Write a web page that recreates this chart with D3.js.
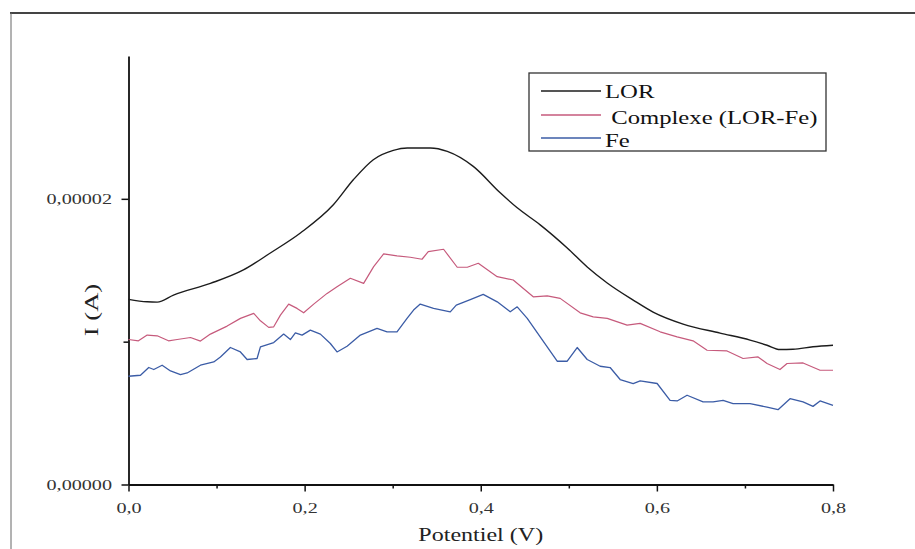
<!DOCTYPE html>
<html><head><meta charset="utf-8">
<script src="https://cdn.jsdelivr.net/npm/d3@7/dist/d3.min.js"></script>
<style>body{margin:0;background:#fff}svg{display:block}</style>
</head><body>
<script>
// ---- data ----
const lorV = [0.0,0.0212,0.0326,0.0511,0.0930,0.1305,0.1611,0.1952,0.2326,0.2553,0.2780,0.3007,0.3166,0.3427,0.3620,0.3915,0.4221,0.4414,0.4675,0.4982,0.5209,0.5436,0.5731,0.5957,0.6298,0.6718,0.7058,0.7251,0.7398,0.7546,0.7773,0.8];
const lorI = [12.96,12.79,12.77,13.26,14.08,15.02,16.21,17.61,19.58,21.33,22.74,23.39,23.56,23.56,23.32,22.27,20.42,19.37,18.18,16.56,15.23,14.11,12.91,12.07,11.23,10.60,10.11,9.75,9.45,9.47,9.64,9.75].map(d=>d*1e-6);

const cpxV = [0.0,0.0113,0.0212,0.0326,0.0454,0.0553,0.0704,0.0817,0.0930,0.1120,0.1271,0.1422,0.1498,0.1592,0.1649,0.1725,0.1819,0.1914,0.1989,0.2103,0.2255,0.2368,0.2519,0.2670,0.2784,0.2897,0.3049,0.3200,0.3333,0.3404,0.3578,0.3733,0.3847,0.3972,0.4187,0.4369,0.4596,0.4755,0.4902,0.5129,0.5277,0.5436,0.5662,0.5810,0.6037,0.6230,0.6411,0.6570,0.6797,0.6979,0.7149,0.7251,0.7398,0.7478,0.7660,0.7853,0.8];
const cpxI = [10.15,10.06,10.46,10.41,10.06,10.15,10.29,10.04,10.53,11.09,11.63,11.98,11.46,11.00,11.04,11.86,12.63,12.33,12.02,12.63,13.38,13.85,14.44,14.08,15.25,16.14,16.00,15.91,15.77,16.30,16.47,15.21,15.21,15.49,14.55,14.32,13.14,13.21,13.03,12.02,11.74,11.63,11.16,11.28,10.69,10.34,10.06,9.40,9.35,8.82,8.93,8.47,8.05,8.47,8.51,8.00,8.00].map(d=>d*1e-6);

const feV = [0.0,0.0136,0.0230,0.0287,0.0382,0.0477,0.0590,0.0666,0.0817,0.0968,0.1044,0.1157,0.1271,0.1347,0.1460,0.1498,0.1649,0.1762,0.1838,0.1895,0.1971,0.2065,0.2179,0.2292,0.2368,0.2482,0.2633,0.2822,0.2936,0.3049,0.3163,0.3237,0.3313,0.3464,0.3654,0.3722,0.3881,0.4028,0.4187,0.4335,0.4414,0.4528,0.4675,0.4868,0.4982,0.5095,0.5209,0.5356,0.5469,0.5583,0.5731,0.5810,0.6003,0.6150,0.6230,0.6343,0.6525,0.6638,0.6752,0.6865,0.7058,0.7251,0.7376,0.7512,0.7660,0.7773,0.7853,0.8];
const feI = [7.58,7.65,8.19,8.05,8.35,7.95,7.70,7.81,8.35,8.58,8.93,9.59,9.28,8.75,8.82,9.64,9.94,10.53,10.15,10.62,10.46,10.81,10.53,9.87,9.28,9.68,10.46,10.93,10.69,10.69,11.63,12.21,12.63,12.33,12.09,12.56,12.95,13.31,12.79,12.09,12.44,11.63,10.34,8.63,8.63,9.59,8.75,8.28,8.19,7.35,7.07,7.25,7.07,5.89,5.85,6.25,5.78,5.78,5.89,5.66,5.66,5.42,5.24,6.01,5.78,5.47,5.85,5.54].map(d=>d*1e-6);

const seriesNames = ["LOR", " Complexe (LOR-Fe)", "Fe"];
const seriesColors = ["#1c1c1c", "#c65a7c", "#3b5ca6"];
const xTicks = [0, 0.2, 0.4, 0.6, 0.8];
const xMinor = [0.1, 0.3, 0.5, 0.7];
const yTicks = [0, 0.00002];
const yMinor = [0.00001];
const xTitle = "Potentiel (V)";
const yTitle = "I (A)";

// ---- drawing ----
const W = 915, H = 549;
const FONT = "'Liberation Serif','Times New Roman',serif";
const SX = 1.3; // horizontal stretch of the scanned text
const svg = d3.select("body").append("svg").attr("width", W).attr("height", H);
svg.append("rect").attr("width", W).attr("height", H).attr("fill", "#fff");

// page frame
svg.append("line").attr("x1", 10).attr("x2", 915).attr("y1", 13).attr("y2", 13)
  .attr("stroke", "#444").attr("stroke-width", 2);
svg.append("line").attr("x1", 11).attr("x2", 11).attr("y1", 13).attr("y2", 549)
  .attr("stroke", "#666").attr("stroke-width", 1);

const x = d3.scaleLinear().domain([0, 0.8]).range([128.5, 833]);
const y = d3.scaleLinear().domain([0, 3e-5]).range([484.5, 56]);
const comma = s => s.replace(".", ",");

// minor ticks
svg.append("g").attr("transform", `translate(0,${y(0)})`)
  .call(d3.axisBottom(x).tickValues(xMinor).tickSize(4).tickFormat(""))
  .call(g => g.select(".domain").remove())
  .selectAll("line").attr("stroke", "#111").attr("stroke-width", 1.5);
svg.append("g").attr("transform", `translate(${x(0)},0)`)
  .call(d3.axisLeft(y).tickValues(yMinor).tickSize(5).tickFormat(""))
  .call(g => g.select(".domain").remove())
  .selectAll("line").attr("stroke", "#111").attr("stroke-width", 1.5);

// x axis
const gx = svg.append("g").attr("transform", `translate(0,${y(0)})`)
  .call(d3.axisBottom(x).tickValues(xTicks).tickSize(7).tickSizeOuter(0)
    .tickFormat(d => comma(d3.format(".1f")(d))));
gx.select(".domain").attr("stroke", "#111").attr("stroke-width", 1.8);
gx.selectAll(".tick line").attr("stroke", "#111").attr("stroke-width", 1.5);
gx.selectAll(".tick text").attr("y", null).attr("dy", null)
  .attr("transform", `translate(0,28.5) scale(${SX},1)`)
  .attr("font-family", FONT).attr("font-size", 15.5).attr("fill", "#333");

// y axis
const gy = svg.append("g").attr("transform", `translate(${x(0)},0)`)
  .call(d3.axisLeft(y).tickValues(yTicks).tickSize(7).tickSizeOuter(0)
    .tickFormat(d => comma(d3.format(".5f")(d))));
gy.select(".domain").attr("stroke", "#111").attr("stroke-width", 1.8);
gy.selectAll(".tick line").attr("stroke", "#111").attr("stroke-width", 1.5);
gy.selectAll(".tick text").attr("x", null).attr("dy", null)
  .attr("transform", `translate(-16.5,5) scale(${SX},1)`)
  .attr("font-family", FONT).attr("font-size", 15.5).attr("fill", "#333");

// axis titles
svg.append("text").attr("transform", `translate(${x(0.4)},541) scale(${SX},1)`)
  .attr("text-anchor", "middle").attr("font-family", FONT).attr("font-size", 18.5)
  .attr("fill", "#222").text(xTitle);
svg.append("text").attr("transform", `translate(98,310) rotate(-90) scale(1.4,1)`)
  .attr("text-anchor", "middle").attr("font-family", FONT).attr("font-size", 19)
  .attr("fill", "#222").text(yTitle);

// curves
const curves = [d3.curveMonotoneX, d3.curveLinear, d3.curveLinear];
const widths = [1.4, 1.2, 1.3];
const series = [
  d3.zip(lorV, lorI),
  d3.zip(cpxV, cpxI),
  d3.zip(feV, feI)
];
series.forEach((s, i) => {
  const line = d3.line().x(d => x(d[0])).y(d => y(d[1])).curve(curves[i]);
  svg.append("path").datum(s).attr("d", line).attr("fill", "none")
    .attr("stroke", seriesColors[i]).attr("stroke-width", widths[i])
    .attr("stroke-linejoin", "round");
});

// legend
const lg = svg.append("g");
lg.append("rect").attr("x", 529).attr("y", 73).attr("width", 297).attr("height", 78)
  .attr("fill", "#fff").attr("stroke", "#333").attr("stroke-width", 1.3);
const lgY = [91, 115, 138];
const lgTextX = [605, 605, 605];
const lgBase = [97.5, 124, 146.5];
seriesNames.forEach((n, i) => {
  lg.append("line").attr("x1", 541).attr("x2", 601).attr("y1", lgY[i]).attr("y2", lgY[i])
    .attr("stroke", seriesColors[i]).attr("stroke-width", 1.4);
  lg.append("text").attr("transform", `translate(${lgTextX[i]},${lgBase[i]}) scale(${SX},1)`)
    .attr("font-family", FONT).attr("font-size", 19).attr("fill", "#111")
    .attr("xml:space", "preserve").style("white-space", "pre").text(n);
});
</script>
</body></html>
